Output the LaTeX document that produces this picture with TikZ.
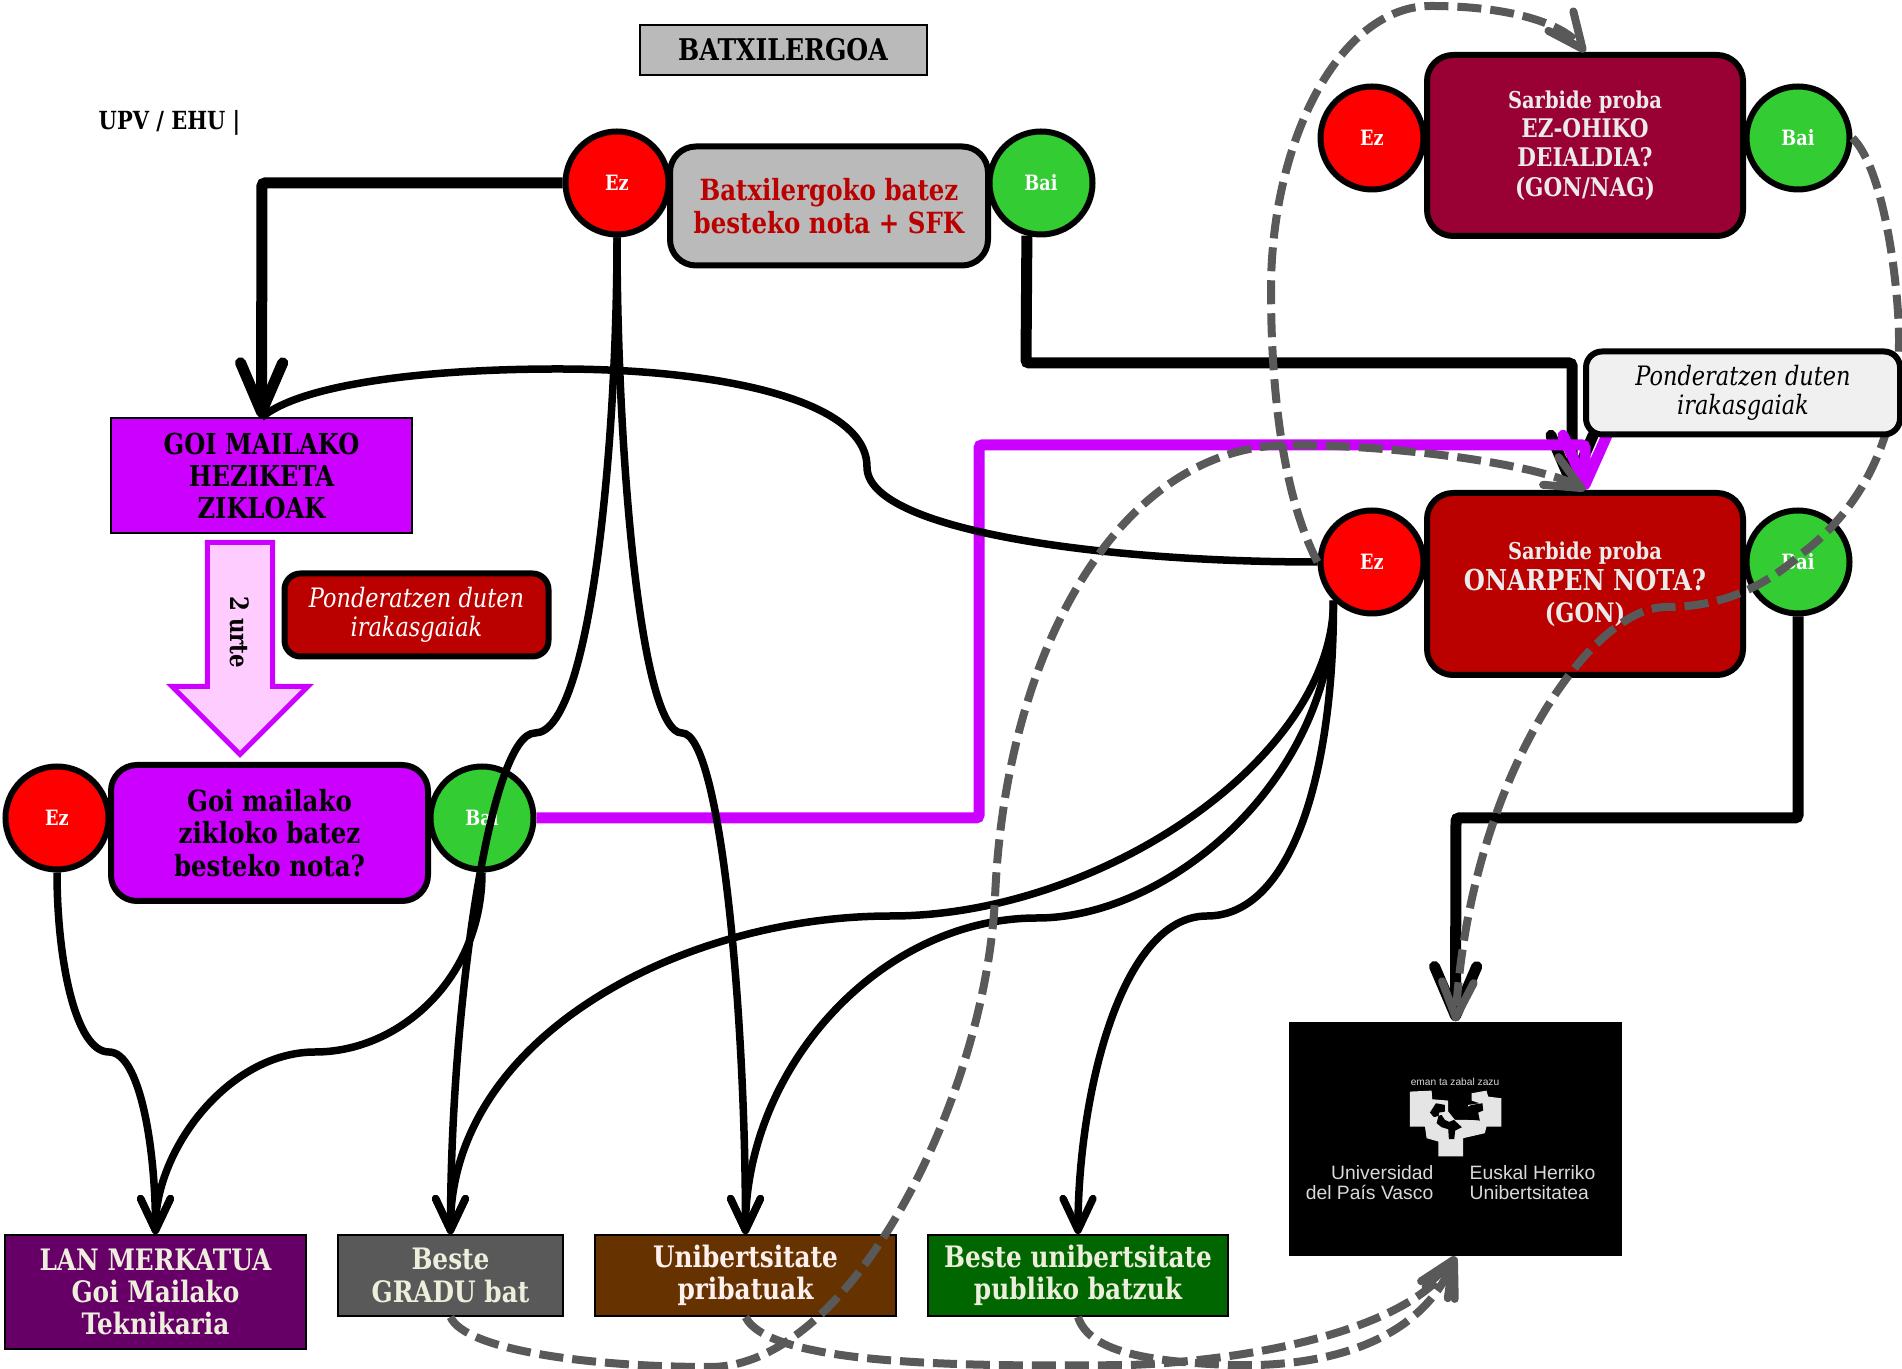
\documentclass[tikz,border=0pt]{standalone}
\usepackage{fontspec}
\setmainfont{DejaVu Serif}[FakeStretch=0.84]
\newfontfamily\logofont{Liberation Sans}
\usetikzlibrary{arrows.meta, shapes.arrows}
\definecolor{morea}{HTML}{CC00FF}
\definecolor{arrosa}{HTML}{FFCCFF}
\definecolor{gorri}{HTML}{BB0000}
\definecolor{granate}{HTML}{990033}
\definecolor{berde}{HTML}{33CC33}
\definecolor{grisa}{HTML}{595959}
\definecolor{krema}{HTML}{EEEEDD}
\definecolor{lila}{HTML}{660066}
\definecolor{marroi}{HTML}{663300}
\definecolor{pinu}{HTML}{006600}
\tikzset{
  ezbai/.style={circle, draw=black, line width=0.06cm, minimum size=1.03cm, inner sep=0pt, text=white, font=\fontsize{6}{7}\selectfont\bfseries},
  galdera/.style={rounded corners=0.26cm, draw=black, line width=0.06cm, align=center, inner sep=0pt, font=\fontsize{8.3}{9.3}\selectfont\bfseries},
  helburu/.style={draw=black, line width=0.02cm, align=center, inner sep=0pt, minimum height=0.81cm, font=\fontsize{8.4}{9.2}\selectfont\bfseries},
  oharra/.style={rounded corners=0.16cm, draw=black, line width=0.06cm, align=center, inner sep=0pt, minimum width=2.64cm, minimum height=0.83cm, font=\fontsize{7.6}{8.3}\selectfont\itshape},
  lodi/.style={line width=0.11cm, -{Straight Barb[length=14pt,width=12pt,round]}},
  mehe/.style={line width=0.075cm, -{Straight Barb[length=9pt,width=8.5pt,round]}},
  mehelerro/.style={line width=0.075cm},
  moreline/.style={line width=0.11cm, morea, -{Straight Barb[length=14pt,width=12.5pt,round]}},
  etena/.style={line width=0.08cm, grisa, dash pattern=on 0.24cm off 0.09cm, -{Straight Barb[length=10pt,width=9pt,round]}},
}
\begin{document}
\begin{tikzpicture}
\useasboundingbox (0,0) rectangle (19.02,13.68);

\node[draw=black, line width=0.02cm, fill=black!27, minimum width=2.87cm, minimum height=0.5cm, font=\fontsize{8.5}{9}\selectfont\bfseries] (titulua) at (7.83,13.18) {BATXILERGOA};
\node[font=\fontsize{7.1}{8}\selectfont\bfseries] (upv) at (1.695,12.45) {UPV / EHU |};

% batxilergoa
\node[ezbai, fill=red] (ezBatx) at (6.17,11.85) {Ez};
\node[ezbai, fill=berde] (baiBatx) at (10.41,11.85) {Bai};
\node[galdera, fill=black!27, text=gorri, minimum width=3.18cm, minimum height=1.19cm] (batx) at (8.29,11.62) {Batxilergoko batez\\besteko nota + SFK};

% goi mailako zikloak
\node[helburu, fill=morea, minimum width=3.01cm, minimum height=1.15cm, font=\fontsize{8.2}{9.2}\selectfont\bfseries] (heziketa) at (2.615,8.92) {GOI MAILAKO\\HEZIKETA\\ZIKLOAK};
\node[single arrow, draw=morea, fill=arrosa, line width=0.05cm, rotate=-90, anchor=tip, minimum height=2.12cm, minimum width=1.36cm, single arrow head extend=0.35cm, single arrow head indent=0cm, inner xsep=0.05cm, inner ysep=0.2cm, font=\fontsize{7.2}{8}\selectfont\bfseries] (urteak) at (2.40,6.10) {2 urte};
\node[oharra, fill=gorri, text=white] (ohar1) at (4.165,7.53) {Ponderatzen duten\\irakasgaiak};
\node[ezbai, fill=red] (ezGoi) at (0.57,5.50) {Ez};
\node[ezbai, fill=berde] (baiGoi) at (4.82,5.50) {Bai};
\node[galdera, fill=morea, minimum width=3.17cm, minimum height=1.36cm] (goi) at (2.695,5.35) {Goi mailako\\zikloko batez\\besteko nota?};

% sarbide proba
\node[ezbai, fill=red] (ezOhiko) at (13.72,12.30) {Ez};
\node[ezbai, fill=berde] (baiOhiko) at (17.98,12.30) {Bai};
\node[galdera, fill=granate, text=white!92!black, minimum width=3.16cm, minimum height=1.81cm, font=\fontsize{7.3}{8.3}\selectfont\bfseries] (ohiko) at (15.85,12.225) {{\fontsize{6.6}{8.3}\selectfont Sarbide proba}\\EZ-OHIKO\\DEIALDIA?\\(GON/NAG)};
\node[ezbai, fill=red] (ezOnar) at (13.72,8.06) {Ez};
\node[ezbai, fill=berde] (baiOnar) at (17.98,8.06) {Bai};
\node[galdera, fill=gorri, text=white!92!black, minimum width=3.16cm, minimum height=1.82cm, font=\fontsize{7.6}{9}\selectfont\bfseries] (onar) at (15.85,7.84) {{\fontsize{6.6}{9}\selectfont Sarbide proba}\\{\fontsize{8.2}{9}\selectfont ONARPEN NOTA?}\\(GON)};

% helburuak
\node[helburu, fill=lila, text=krema, minimum width=3.01cm, minimum height=1.14cm] (lan) at (1.555,0.76) {LAN MERKATUA\\Goi Mailako\\Teknikaria};
\node[helburu, fill=grisa, text=krema, minimum width=2.25cm] (gradu) at (4.505,0.925) {Beste\\GRADU bat};
\node[helburu, fill=marroi, text=red!6!white, minimum width=3.01cm] (pribatu) at (7.455,0.925) {Unibertsitate\\pribatuak};
\node[helburu, fill=pinu, text=krema, minimum width=3.0cm] (publiko) at (10.78,0.925) {Beste unibertsitate\\publiko batzuk};

% irudia
\node[fill=black, minimum width=3.33cm, minimum height=2.34cm, inner sep=0pt] (irudia) at (14.555,2.29) {};
\begin{scope}[shift={(14,2.98)}, x=0.00333cm, y=-0.00333cm]
\fill[white!90!black] (30,65) -- (95,62) -- (97,88) -- (145,92) -- (145,125) -- (165,150) -- (205,150) -- (205,105) -- (240,100) -- (215,92) -- (215,70) -- (260,62) -- (265,80) -- (305,85) -- (305,170) -- (260,170) -- (255,190) -- (190,205) -- (190,260) -- (115,260) -- (115,215) -- (80,205) -- (75,170) -- (30,170) -- cycle;
\fill[black] (108,100) -- (135,105) -- (135,125) -- (118,128) -- (110,160) -- (125,172) -- (145,178) -- (147,208) -- (163,208) -- (166,182) -- (186,172) -- (162,150) -- (148,156) -- (135,150) -- (125,135) -- (102,142) -- (90,128) -- cycle;
\fill[black] (215,105) -- (248,100) -- (250,122) -- (235,128) -- (240,152) -- (218,150) -- (205,150) -- (205,110) -- cycle;
\end{scope}
\node[text=white!85!black, font=\logofont\fontsize{2.9}{3.5}\selectfont] (leloa) at (14.55,2.86) {eman ta zabal zazu};
\node[text=white!85!black, align=right, anchor=east, inner sep=0pt, font=\logofont\fontsize{5.5}{5.7}\selectfont] (gaztelania) at (14.34,1.85) {Universidad\\del País Vasco};
\node[text=white!85!black, align=left, anchor=west, inner sep=0pt, font=\logofont\fontsize{5.5}{5.7}\selectfont] (euskara) at (14.69,1.85) {Euskal Herriko\\Unibertsitatea};

% geziak
\draw[lodi, rounded corners=0.03cm] (ezBatx.west) -- (2.62,11.85) -- (heziketa.north);
\draw[lodi, rounded corners=0.03cm] (baiBatx.-105) -- (10.26,10.05) -- (15.72,10.05) -- ([xshift=-0.13cm]onar.north);
\draw[moreline, rounded corners=0.03cm] (baiGoi.east) -- (9.79,5.50) -- (9.79,9.23) -- (15.85,9.23) -- (onar.north);
\draw[lodi, rounded corners=0.03cm] (baiOnar.south) -- (17.98,5.50) -- (14.56,5.50) -- (irudia.north);

\draw[mehelerro] (ezOnar.west) .. controls (11,8.06) and (8.67,8.38) .. (8.67,9.01) .. controls (8.67,9.68) and (7.2,9.99) .. (5.58,9.99) .. controls (4.2,9.99) and (3,9.83) .. (heziketa.north);
\draw[mehe] (ezBatx.south) .. controls (6.17,9.2) and (5.9,6.35) .. (5.35,6.35) .. controls (4.9,6.35) and (4.505,3.6) .. (gradu.north);
\draw[mehe] (ezBatx.south) .. controls (6.17,9.2) and (6.4,6.35) .. (6.82,6.35) .. controls (7.2,6.35) and (7.455,3.6) .. (pribatu.north);
\draw[mehe] (ezGoi.south) .. controls (0.57,4.1) and (0.75,3.16) .. (1.09,3.16) .. controls (1.4,3.16) and (1.555,2.2) .. (lan.north);
\draw[mehe] (baiGoi.south) .. controls (4.82,3.9) and (4,3.16) .. (3.15,3.16) .. controls (2.3,3.16) and (1.555,2.2) .. (lan.north);
\draw[mehe] (ezOnar.-135) .. controls (13.34,6.1) and (11,4.52) .. (8.91,4.52) .. controls (6.8,4.52) and (4.505,3.3) .. (gradu.north);
\draw[mehe] (ezOnar.-135) .. controls (13.34,5.9) and (11.7,4.5) .. (10.37,4.5) .. controls (8.8,4.5) and (7.455,3.0) .. (pribatu.north);
\draw[mehe] (ezOnar.-135) .. controls (13.34,5.9) and (12.9,4.52) .. (12.07,4.52) .. controls (11.2,4.52) and (10.78,2.7) .. (publiko.north);

% etenak
\draw[etena] (ezOnar.west) .. controls (12.85,8.68) and (12.71,9.68) .. (12.71,10.78) .. controls (12.71,12.28) and (13.40,13.62) .. (14.31,13.62) .. controls (15,13.62) and (15.6,13.48) .. (ohiko.north);
\draw[etena] (baiOhiko.east) .. controls (18.85,11.98) and (18.99,10.78) .. (18.99,10.28) .. controls (18.99,9.28) and (18.6,8.58) .. (18,8.13) .. controls (17.5,7.68) and (17,7.61) .. (16.66,7.61) .. controls (15.9,7.61) and (14.7,5.88) .. (irudia.north);
\draw[etena] (gradu.south) .. controls (4.65,0.18) and (5.9,0.01) .. (7.1,0.01) .. controls (8.5,0.01) and (9.85,2.68) .. (9.95,4.70) .. controls (10.05,7.18) and (11.2,9.23) .. (12.9,9.23) .. controls (14,9.23) and (15.4,9.03) .. (onar.north);
\draw[etena] (pribatu.south) .. controls (7.7,0.03) and (9.6,0.01) .. (11.3,0.03) .. controls (12.6,0.08) and (14.1,0.4) .. (irudia.south);
\draw[etena] (publiko.south) .. controls (10.9,0.13) and (11.6,0.06) .. (12.3,0.03) .. controls (13.3,0) and (14.2,0.28) .. (irudia.south);

\node[oharra, fill=black!6, minimum width=3.14cm] (ohar2) at (17.43,9.75) {Ponderatzen duten\\irakasgaiak};
\end{tikzpicture}
\end{document}
